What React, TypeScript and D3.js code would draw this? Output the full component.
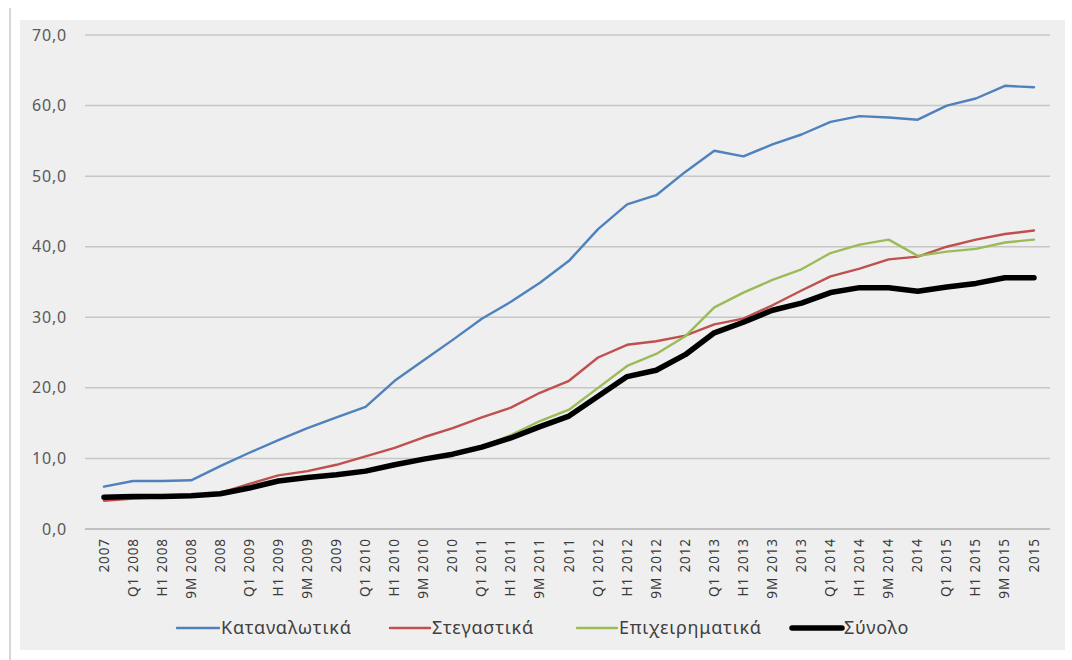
import React from "react";
import * as d3 from "d3";

const categories: string[] = [
  "2007", "Q1 2008", "H1 2008", "9M 2008", "2008",
  "Q1 2009", "H1 2009", "9M 2009", "2009",
  "Q1 2010", "H1 2010", "9M 2010", "2010",
  "Q1 2011", "H1 2011", "9M 2011", "2011",
  "Q1 2012", "H1 2012", "9M 2012", "2012",
  "Q1 2013", "H1 2013", "9M 2013", "2013",
  "Q1 2014", "H1 2014", "9M 2014", "2014",
  "Q1 2015", "H1 2015", "9M 2015", "2015",
];

const consumer: number[] = [
  6.0, 6.8, 6.8, 6.9, 8.9, 10.8, 12.6, 14.3, 15.8, 17.3, 21.0, 23.9, 26.8,
  29.8, 32.2, 34.9, 38.0, 42.5, 46.0, 47.3, 50.6, 53.6, 52.8, 54.5, 55.9,
  57.7, 58.5, 58.3, 58.0, 60.0, 61.0, 62.8, 62.6,
];
const housing: number[] = [
  4.0, 4.3, 4.5, 4.8, 5.1, 6.4, 7.6, 8.2, 9.1, 10.3, 11.5, 13.0, 14.3,
  15.8, 17.2, 19.3, 21.0, 24.3, 26.1, 26.6, 27.4, 29.0, 29.8, 31.7, 33.8,
  35.8, 36.9, 38.2, 38.6, 40.0, 41.0, 41.8, 42.3,
];
const business: number[] = [
  4.6, 4.6, 4.6, 4.7, 5.0, 5.9, 6.9, 7.4, 7.8, 8.3, 9.1, 10.0, 10.6,
  11.7, 13.3, 15.3, 16.9, 20.0, 23.1, 24.8, 27.3, 31.4, 33.5, 35.3, 36.8,
  39.1, 40.3, 41.0, 38.7, 39.3, 39.7, 40.6, 41.0,
];
const total: number[] = [
  4.5, 4.6, 4.6, 4.7, 5.0, 5.8, 6.8, 7.3, 7.7, 8.2, 9.1, 9.9, 10.6,
  11.6, 12.9, 14.5, 16.0, 18.8, 21.6, 22.5, 24.7, 27.8, 29.3, 31.0, 32.0,
  33.5, 34.2, 34.2, 33.7, 34.3, 34.8, 35.6, 35.6,
];

const yTicks: number[] = [0, 10, 20, 30, 40, 50, 60, 70];

const seriesNames: string[] = ["Καταναλωτικά", "Στεγαστικά", "Επιχειρηματικά", "Σύνολο"];
const seriesColors: string[] = ["#4f81bd", "#c0504d", "#9bbb59", "#000000"];
const seriesWidths: number[] = [2.4, 2.4, 2.4, 5.5];
const seriesData: number[][] = [consumer, housing, business, total];

const legendX: number[] = [177, 390, 577, 792];
const legendLineLen: number[] = [42, 40, 40, 50];

export default function App() {
  const W = 1072;
  const H = 660;
  const gridLeft = 85;
  const gridRight = 1050;

  const x = d3.scalePoint<string>().domain(categories).range([104, 1034]);
  const y = d3.scaleLinear().domain([0, 70]).range([529, 35]);

  const line = d3
    .line<number>()
    .x((_, i) => x(categories[i]) as number)
    .y((d) => y(d))
    .curve(d3.curveLinear);

  const fmt = (v: number) => v.toFixed(1).replace(".", ",");

  return (
    <svg
      width={W}
      height={H}
      style={{ position: "absolute", left: 0, top: 0, background: "#ffffff" }}
      fontFamily="'Noto Sans', 'DejaVu Sans', sans-serif"
    >
      <rect x={0} y={0} width={W} height={H} fill="#ffffff" />
      <line x1={10} y1={8} x2={10} y2={660} stroke="#d6d6d6" strokeWidth={2} />
      <rect x={20} y={20} width={1045} height={630} fill="#efefef" />

      {yTicks.map((t) => (
        <g key={t}>
          <line
            x1={gridLeft}
            x2={gridRight}
            y1={y(t)}
            y2={y(t)}
            stroke={t === 0 ? "#b0b0b0" : "#c6c6c6"}
            strokeWidth={1.5}
          />
          <text
            x={67}
            y={y(t)}
            dy="0.35em"
            textAnchor="end"
            fontSize={16}
            letterSpacing={0.8}
            fill="#595959"
          >
            {fmt(t)}
          </text>
        </g>
      ))}

      {categories.map((c) => (
        <text
          key={c}
          transform={`translate(${(x(c) as number) + 4.5},538) rotate(-90)`}
          textAnchor="end"
          fontSize={13.5}
          fill="#3a3a3a"
          letterSpacing={0.9}
        >
          {c}
        </text>
      ))}

      {seriesData.map((s, k) => (
        <path
          key={seriesNames[k]}
          d={line(s) || ""}
          fill="none"
          stroke={seriesColors[k]}
          strokeWidth={seriesWidths[k]}
          strokeLinejoin="round"
          strokeLinecap="round"
        />
      ))}

      {seriesNames.map((n, k) => (
        <g key={n}>
          <line
            x1={legendX[k]}
            x2={legendX[k] + legendLineLen[k]}
            y1={628}
            y2={628}
            stroke={seriesColors[k]}
            strokeWidth={seriesWidths[k]}
            strokeLinecap="round"
          />
          <text
            x={legendX[k] + legendLineLen[k] + 2}
            y={628}
            dy="0.35em"
            fontSize={18}
            letterSpacing={0.8}
            fill="#404040"
          >
            {n}
          </text>
        </g>
      ))}
    </svg>
  );
}
